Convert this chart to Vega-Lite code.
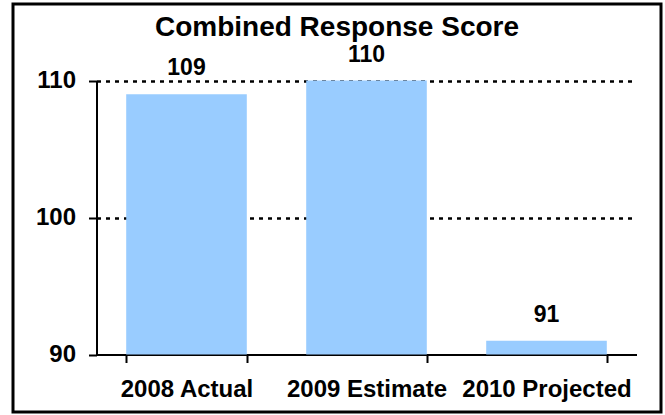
{
  "$schema": "https://vega.github.io/schema/vega-lite/v6.json",
  "width": 648,
  "height": 408,
  "autosize": "none",
  "padding": {"left": 13, "top": 4, "right": 4, "bottom": 3},
  "background": "white",
  "title": {
    "text": "Combined Response Score",
    "font": "Liberation Sans",
    "fontSize": 28,
    "fontWeight": "bold",
    "color": "black",
    "anchor": "middle",
    "frame": "group",
    "offset": -38
  },
  "data": {
    "values": [
      {"category": "2008 Actual", "score": 109},
      {"category": "2009 Estimate", "score": 110},
      {"category": "2010 Projected", "score": 91}
    ]
  },
  "encoding": {
    "x": {
      "field": "category",
      "type": "nominal",
      "sort": null,
      "scale": {"range": [83.5, 623.5], "paddingInner": 0.33, "paddingOuter": 0.165},
      "axis": {
        "title": null,
        "offset": -57.5,
        "tickBand": "extent",
        "labelAngle": 0,
        "domainColor": "black",
        "domainWidth": 2,
        "tickColor": "black",
        "tickWidth": 2,
        "tickSize": 8,
        "labelFont": "Liberation Sans",
        "labelFontSize": 24,
        "labelFontWeight": "bold",
        "labelColor": "black",
        "labelPadding": 15,
        "grid": false
      }
    },
    "y": {
      "field": "score",
      "type": "quantitative",
      "scale": {"domain": [90, 110], "range": [350.5, 76.5], "zero": false},
      "axis": {
        "title": null,
        "offset": -83.5,
        "values": [90, 100, 110],
        "domainColor": "black",
        "domainWidth": 2,
        "tickColor": "black",
        "tickWidth": 2,
        "tickSize": 8,
        "labelFont": "Liberation Sans",
        "labelFontSize": 24,
        "labelFontWeight": "bold",
        "labelColor": "black",
        "labelPadding": 13,
        "grid": true,
        "gridColor": "black",
        "gridWidth": 2.5,
        "gridDash": [4, 5],
        "gridOpacity": {"condition": {"test": "datum.value == 90", "value": 0}, "value": 1}
      }
    }
  },
  "layer": [
    {
      "mark": {"type": "bar", "color": "#99CCFF"},
      "encoding": {"y2": {"datum": 90}}
    },
    {
      "mark": {
        "type": "text",
        "font": "Liberation Sans",
        "fontSize": 23,
        "fontWeight": "bold",
        "color": "black",
        "baseline": "alphabetic",
        "dy": -19
      },
      "encoding": {"text": {"field": "score", "type": "quantitative"}}
    }
  ],
  "config": {
    "view": {"stroke": "black", "strokeWidth": 3}
  }
}
